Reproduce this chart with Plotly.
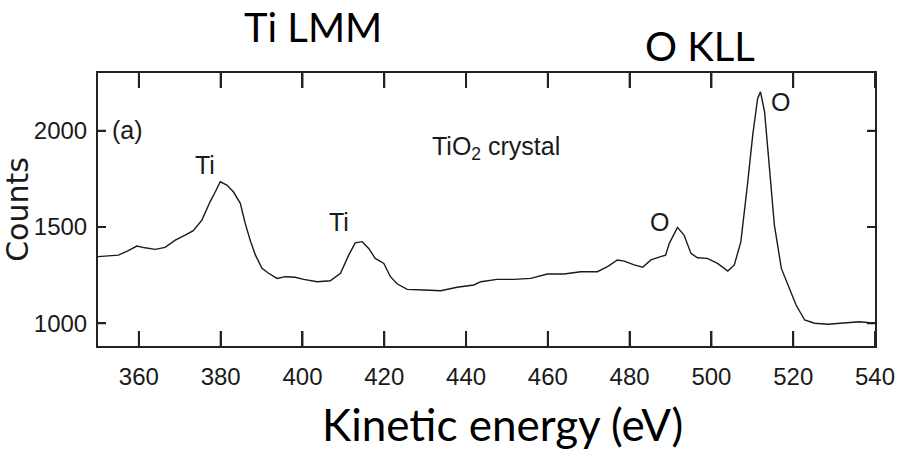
import plotly.graph_objects as go

# Kinetic energy (eV) and counts
energy = [350.0, 352.5, 355.0, 357.4, 359.5, 361.5, 364.0, 366.4, 368.9, 371.3,
          373.3, 375.4, 377.4, 378.7, 379.9, 381.5, 383.1, 384.8, 386.0, 387.2,
          388.5, 390.1, 391.7, 393.8, 395.8, 398.2, 400.3, 403.6, 406.8, 409.3,
          411.3, 412.9, 414.6, 416.2, 417.8, 419.9, 421.5, 423.2, 425.6, 429.7,
          433.8, 437.8, 441.9, 443.6, 447.6, 451.7, 455.8, 459.9, 464.0, 468.0,
          472.1, 474.6, 477.0, 478.7, 481.1, 483.2, 485.2, 487.6, 488.8, 489.7,
          491.7, 493.3, 495.0, 496.6, 499.0, 501.5, 504.0, 505.6, 507.2, 508.8,
          510.1, 511.3, 512.0, 513.0, 514.2, 515.4, 517.1, 519.1, 520.7, 522.8,
          525.2, 528.5, 532.6, 536.2, 540.0]
counts = [1346, 1349, 1354, 1377, 1401, 1392, 1384, 1394, 1432, 1458,
          1481, 1536, 1631, 1683, 1735, 1718, 1683, 1623, 1519, 1432,
          1354, 1285, 1260, 1233, 1242, 1239, 1228, 1216, 1221, 1260,
          1354, 1418, 1424, 1389, 1337, 1311, 1242, 1204, 1176, 1173,
          1169, 1187, 1199, 1216, 1228, 1228, 1233, 1256, 1256, 1268,
          1268, 1294, 1329, 1323, 1303, 1291, 1329, 1346, 1354, 1415,
          1498, 1458, 1363, 1340, 1337, 1311, 1271, 1303, 1424, 1718,
          1977, 2168, 2202, 2098, 1787, 1510, 1285, 1182, 1095, 1017,
          1000, 995, 1000, 1008, 1000]

x_ticks = [360, 380, 400, 420, 440, 460, 480, 500, 520, 540]
y_ticks = [1000, 1500, 2000]
x_range = [350, 540]
y_range = [882, 2300]

# in-plot peak labels: (text, energy, counts)
peak_labels = [
    ("(a)", 357.1, 2003),
    ("Ti", 376.2, 1822),
    ("Ti", 409.0, 1526),
    ("TiO<sub>2</sub> crystal", 447.2, 1910),
    ("O", 487.2, 1526),
    ("O", 516.8, 2149),
]

narrow = "Liberation Sans Narrow, Arial Narrow, Liberation Sans, Arial, sans-serif"
calib = "Lato, Carlito, Calibri, sans-serif"
frame_col = "#222222"

W, H = 897, 450
L, R, T, B = 98, 22, 73, 104
pw, ph = W - L - R, H - T - B

fig = go.Figure()
fig.add_trace(go.Scatter(x=energy, y=counts, mode="lines",
                         line=dict(color="#1a1a1a", width=1.4),
                         showlegend=False, hoverinfo="x+y"))

# inward tick marks on all four frame edges, one short segment per tick value
XT_LEN_PX, YT_LEN_PX = 15, 8
dy = XT_LEN_PX * (y_range[1] - y_range[0]) / ph
dx = YT_LEN_PX * (x_range[1] - x_range[0]) / pw
for t in x_ticks:
    for y_edge, sgn in ((y_range[0], 1), (y_range[1], -1)):
        fig.add_trace(go.Scatter(x=[t, t], y=[y_edge, y_edge + sgn * dy], mode="lines",
                                 line=dict(color=frame_col, width=2, simplify=False),
                                 showlegend=False, hoverinfo="skip", cliponaxis=False))
for t in y_ticks:
    for x_edge, sgn in ((x_range[0], 1), (x_range[1], -1)):
        fig.add_trace(go.Scatter(x=[x_edge, x_edge + sgn * dx], y=[t, t], mode="lines",
                                 line=dict(color=frame_col, width=2, simplify=False),
                                 showlegend=False, hoverinfo="skip", cliponaxis=False))

for txt, ex, cy in peak_labels:
    fig.add_annotation(x=ex, y=cy, xref="x", yref="y", text=txt, showarrow=False,
                       font=dict(family=narrow, size=25, color="#1a1a1a"),
                       xanchor="center", yanchor="middle")


def px_to_paper(px, py):
    return (px - L) / pw, (H - B - py) / ph


for txt, px, py, size in [("Kinetic energy (eV)", 502, 424, 44),
                          ("Ti LMM", 313, 27, 40),
                          ("O KLL", 700, 46, 40)]:
    ax_, ay_ = px_to_paper(px, py)
    fig.add_annotation(x=ax_, y=ay_, xref="paper", yref="paper", text=txt,
                       showarrow=False, font=dict(family=calib, size=size, color="black"),
                       xanchor="center", yanchor="middle")

fig.update_layout(
    template="none",
    width=W, height=H,
    margin=dict(l=L, r=R, t=T, b=B),
    plot_bgcolor="white", paper_bgcolor="white",
    font=dict(family=narrow, color="#1a1a1a"),
    xaxis=dict(range=x_range, tickmode="array", tickvals=x_ticks,
               ticktext=[str(v) for v in x_ticks],
               ticks="inside", ticklen=XT_LEN_PX, tickwidth=2, tickcolor=frame_col,
               showline=True, linecolor=frame_col, linewidth=2, mirror="allticks",
               showgrid=False, zeroline=False, automargin=False,
               ticklabelstandoff=8,
               tickfont=dict(family=narrow, size=24, color="#1a1a1a")),
    yaxis=dict(range=y_range, tickmode="array", tickvals=y_ticks,
               ticktext=[str(v) for v in y_ticks],
               ticks="inside", ticklen=YT_LEN_PX, tickwidth=2, tickcolor=frame_col,
               showline=True, linecolor=frame_col, linewidth=2, mirror="allticks",
               showgrid=False, zeroline=False, automargin=False,
               ticklabelstandoff=4,
               tickfont=dict(family=narrow, size=24, color="#1a1a1a"),
               title=dict(text="Counts", standoff=10,
                          font=dict(family="DejaVu Sans, sans-serif", size=30, color="#1a1a1a"))),
)

fig.write_html("out.html")
